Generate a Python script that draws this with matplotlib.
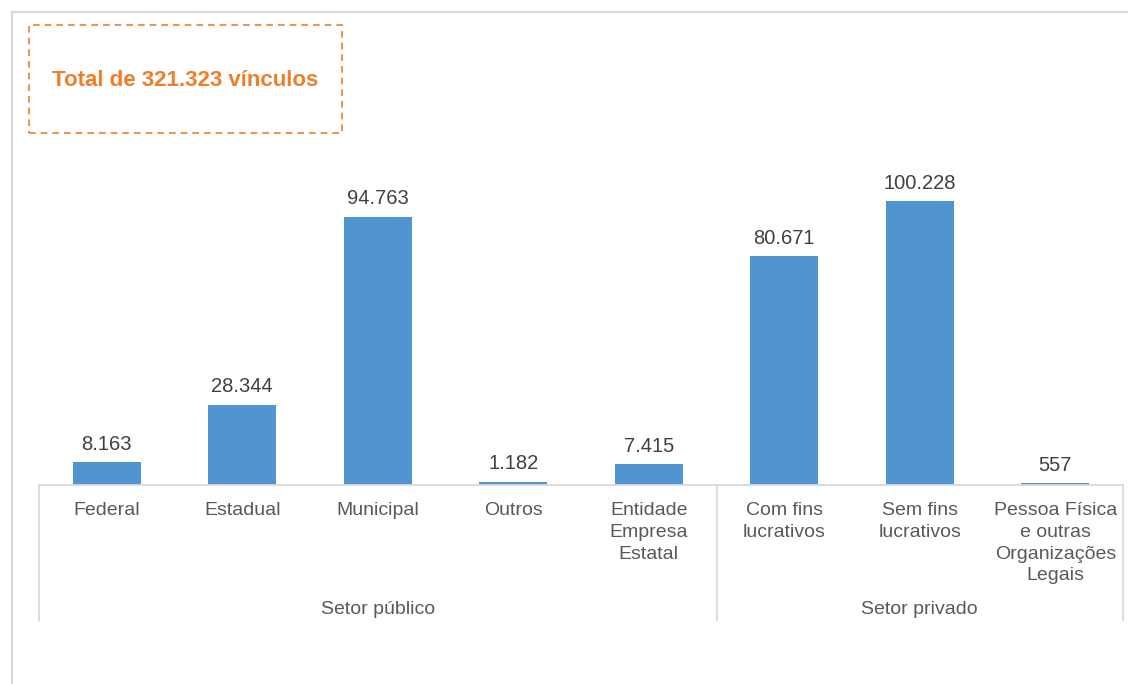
import matplotlib
matplotlib.use("Agg")
import matplotlib.pyplot as plt
from matplotlib.lines import Line2D
from matplotlib.patches import Rectangle

plt.rcParams['font.family'] = ['Liberation Sans', 'DejaVu Sans']

# data
categorias = ["Federal", "Estadual", "Municipal", "Outros", "Entidade\nEmpresa\nEstatal",
              "Com fins\nlucrativos", "Sem fins\nlucrativos",
              "Pessoa Física\ne outras\nOrganizações\nLegais"]
vinculos = [8163, 28344, 94763, 1182, 7415, 80671, 100228, 557]
grupos = ["Setor público", "Setor privado"]
grupo_tamanho = [5, 3]
titulo = "Total de 321.323 vínculos"

W, H = 1128, 684
fig = plt.figure(figsize=(W / 100, H / 100), dpi=100)

gray = "#D9D9D9"
orange = "#F07D2A"
bar_col = "#5094D0"

# outer frame (top and left)
fig.add_artist(Line2D([12 / W, 1], [1 - 12 / H, 1 - 12 / H], color=gray, lw=1.6))
fig.add_artist(Line2D([12 / W, 12 / W], [0, 1 - 12 / H], color=gray, lw=1.6))

# axes: baseline at y=485, x from 39 to 1123
ax = fig.add_axes([39 / W, 1 - 485 / H, (1123 - 39) / W, 425 / H])
x = list(range(len(vinculos)))
ax.bar(x, vinculos, width=0.5, color=bar_col, zorder=2)
ax.set_xlim(-0.5, len(vinculos) - 0.5)
ax.set_ylim(0, 150000)

for xi, v in zip(x, vinculos):
    ax.annotate(f"{v:,}".replace(",", "."), (xi, v), xytext=(0, 6),
                textcoords="offset points", ha="center", va="bottom",
                fontsize=14.5, color="#404040")

for s in ["top", "right", "left"]:
    ax.spines[s].set_visible(False)
ax.spines["bottom"].set_color(gray)
ax.spines["bottom"].set_linewidth(1.3)
ax.set_yticks([])
ax.set_xticks(x)
ax.set_xticklabels(categorias, fontsize=14, color="#595959", linespacing=1.38)
ax.tick_params(axis="x", length=0, pad=12)

# group separators and labels
ybot = -(620 - 485) / 425
start = -0.5
bounds = [start]
for n in grupo_tamanho:
    bounds.append(bounds[-1] + n)
trans = ax.get_xaxis_transform()
for b in bounds:
    ax.plot([b, b], [0, ybot], transform=trans, color=gray, lw=1.3, clip_on=False)
for i, g in enumerate(grupos):
    xc = (bounds[i] + bounds[i + 1]) / 2
    ax.text(xc, -(609 - 485) / 425, g, transform=trans, ha="center", va="center",
            fontsize=14, color="#595959")

# title box
fig.add_artist(Rectangle((29 / W, 1 - 133 / H), 313 / W, 108 / H, transform=fig.transFigure,
                         fill=False, edgecolor=orange, lw=1.2, linestyle=(0, (4, 3))))
fig.text(185.5 / W, 1 - 80 / H, titulo, ha="center", va="center", fontsize=16,
         fontweight="bold", color=orange)

fig.savefig("out.png", dpi=100)
